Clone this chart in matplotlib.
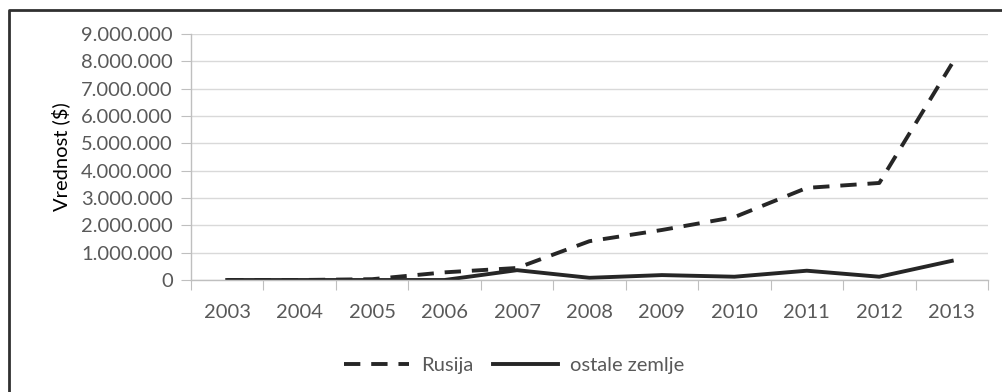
import matplotlib.pyplot as plt
from matplotlib.lines import Line2D
from matplotlib.ticker import FuncFormatter

years = ["2003", "2004", "2005", "2006", "2007", "2008", "2009", "2010", "2011", "2012", "2013"]
rusija = [0, 0, 30000, 280000, 440000, 1420000, 1830000, 2300000, 3370000, 3550000, 7900000]
ostale = [0, 0, 0, 0, 360000, 80000, 180000, 120000, 340000, 120000, 700000]

plt.rcParams['font.family'] = ['Lato', 'DejaVu Sans']
text_color = '#595959'
line_color = '#262626'
fs = 14.5

fig = plt.figure(figsize=(10.02, 3.92), dpi=100)
ax = fig.add_axes([0.1906, 0.2857, 0.7954, 0.6276])

x = range(len(years))
ax.plot(x, rusija, color=line_color, linewidth=2.8, dashes=(4.2, 2.8),
        dash_capstyle='butt', label='Rusija')
ax.plot(x, ostale, color=line_color, linewidth=2.8, solid_joinstyle='round',
        label='ostale zemlje')

ax.set_xlim(-0.5, len(years) - 0.5)
ax.set_ylim(0, 9000000)
ax.set_yticks(range(0, 9000001, 1000000))
ax.yaxis.set_major_formatter(FuncFormatter(lambda v, p: f"{int(v):,}".replace(",", ".")))

# category labels centred, ticks sitting between categories
ax.set_xticks([i - 0.5 for i in range(len(years) + 1)])
ax.set_xticklabels([])
ax.set_xticks(list(x), minor=True)
ax.set_xticklabels(years, minor=True)
ax.tick_params(axis='x', which='minor', length=0, pad=17, labelsize=fs, labelcolor=text_color)
ax.tick_params(axis='x', which='major', length=7, color='#bfbfbf', direction='out')
ax.tick_params(axis='y', length=7, color='#bfbfbf', labelsize=fs, labelcolor=text_color, pad=6)

ax.grid(axis='y', color='#d9d9d9', linewidth=1.0)
ax.set_axisbelow(True)
for side in ['top', 'right']:
    ax.spines[side].set_visible(False)
for side in ['left', 'bottom']:
    ax.spines[side].set_color('#bfbfbf')
    ax.spines[side].set_linewidth(1.0)

ax.set_ylabel('Vrednost ($)', fontsize=fs, color='black', labelpad=8)

fig.legend(loc='center', bbox_to_anchor=(0.513, 0.068), ncol=2, frameon=False,
           fontsize=fs, labelcolor=text_color, handlelength=3.2, columnspacing=1.0,
           handletextpad=0.6)

# outer frame on the left and top edges
fig.add_artist(Line2D([9 / 1002, 9 / 1002, 1.0], [0.0, 1 - 10 / 392, 1 - 10 / 392],
                      transform=fig.transFigure, color='#303030', linewidth=2.0))

fig.savefig('out.png', dpi=100)
